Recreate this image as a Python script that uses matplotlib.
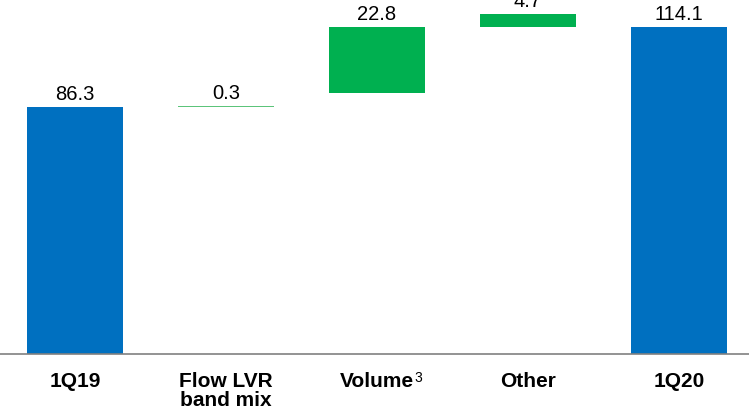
import matplotlib
matplotlib.use("Agg")
from matplotlib import pyplot as plt

plt.rcParams['font.family'] = ['Liberation Sans', 'DejaVu Sans']

# waterfall data (bottoms as drawn in the source chart)
categories = ["1Q19", "Flow LVR\nband mix", "Volume", "Other", "1Q20"]
values = [86.3, 0.3, 22.8, 4.7, 114.1]
bottoms = [0, 86.3, 91.3, 114.1, 0]
labels = ["86.3", "0.3", "22.8", "4.7", "114.1"]
colors = ["#0070C0", "#5CC47A", "#00B050", "#00B050", "#0070C0"]

fig = plt.figure(figsize=(7.49, 4.14), dpi=100)
ax = fig.add_axes([0, 59 / 414, 1, 355 / 414])

x = list(range(len(values)))
ax.bar(x, values, bottom=bottoms, width=0.64, color=colors, linewidth=0)

for xi, v, b, lab in zip(x, values, bottoms, labels):
    ax.annotate(lab, (xi, v + b), xytext=(0, 6), textcoords="offset points",
                ha="center", va="baseline", fontsize=14.5, color="black",
                annotation_clip=False)

ax.set_xlim(-0.497, 4.464)
ax.set_ylim(0, 124)
ax.set_yticks([])
ax.set_xticks(x)
ax.set_xticklabels(categories, fontsize=15, fontweight="bold", linespacing=1.05)
ax.tick_params(axis="x", length=0, pad=12)
for s in ["top", "left", "right"]:
    ax.spines[s].set_visible(False)
ax.spines["bottom"].set_color("#808080")
ax.spines["bottom"].set_linewidth(1.2)

# footnote superscript after "Volume"
fig.canvas.draw()
vol = ax.get_xticklabels()[2]
bb = vol.get_window_extent()
ax.annotate("3", xy=(bb.x1, bb.y1), xycoords="figure pixels",
            xytext=(0, 0.5), textcoords="offset points",
            ha="left", va="top", fontsize=10, color="black")

fig.savefig("out.png", dpi=100)
